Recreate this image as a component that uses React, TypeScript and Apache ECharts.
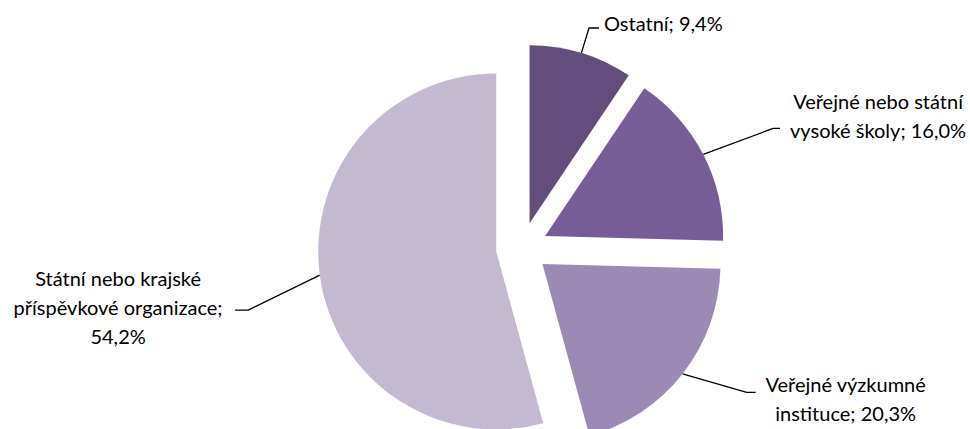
import React, { useEffect, useRef } from "react";
import * as echarts from "echarts";

const categories = [
  "Ostatní",
  "Veřejné nebo státní vysoké školy",
  "Veřejné výzkumné instituce",
  "Státní nebo krajské příspěvkové organizace",
];
const labelLinesText = [
  ["Ostatní; {v}"],
  ["Veřejné nebo státní", "vysoké školy; {v}"],
  ["Veřejné výzkumné", "instituce; {v}"],
  ["Státní nebo krajské", "příspěvkové organizace;", "{v}"],
];
const values = [9.4, 16.0, 20.3, 54.2];
const colors = ["#634d7d", "#775d98", "#9b8ab5", "#c3b9d1"];

export default function App() {
  const ref = useRef<HTMLDivElement>(null);
  useEffect(() => {
    const chart = echarts.init(ref.current!, undefined, { renderer: "svg" });
    const fmt = (v: number) => v.toFixed(1).replace(".", ",") + "%";
    const blockW = [0, 186, 170, 224];
    const lens = [26, 56.7, 29.9, 30];
    const lens2 = [10, 26.4, 49.6, 55];
    const pads = [
      [0, 0, 10, 0],
      [0, 0, 26, 0],
      [12, 0, 0, 0],
      [55, 0, 0, 0],
    ];
    // leader-line elbow: horizontal tail length and vertical drop of the tail
    const tail = [0, 7, 9, 13];
    const drop = [0, 0, 0, 31];
    chart.setOption({
      animation: false,
      backgroundColor: "#ffffff",
      series: [
        {
          type: "pie",
          center: [522, 248],
          radius: 178,
          startAngle: 90,
          clockwise: true,
          selectedMode: "multiple",
          selectedOffset: 26,
          avoidLabelOverlap: false,
          emphasis: { disabled: true },
          data: categories.map((c, i) => ({
            name: c,
            value: values[i],
            selected: true,
            itemStyle: { color: colors[i] },
            label: {
              padding: pads[i],
              rich: {
                c: {
                  width: blockW[i] || undefined,
                  align: "center",
                  fontFamily: "Lato",
                  fontSize: 20,
                  lineHeight: 29,
                  color: "#000000",
                },
              },
            },
            labelLine: { length: lens[i], length2: lens2[i] },
          })),
          label: {
            show: true,
            position: "outside",
            alignTo: "none",
            distanceToLabelLine: 5,
            fontFamily: "Lato",
            fontSize: 20,
            lineHeight: 29,
            color: "#000000",
            formatter: (p: any) =>
              labelLinesText[p.dataIndex]
                .map((l) => "{c|" + l.replace("{v}", fmt(p.value)) + "}")
                .join("\n"),
          },
          labelLine: {
            show: true,
            lineStyle: { color: "#000000", width: 1.3 },
          },
          labelLayout: (params: any) => {
            const i = params.dataIndex;
            const pts = params.labelLinePoints;
            if (!pts || !tail[i]) return {};
            const p0 = pts[0];
            const p2 = pts[2];
            const sign = p2[0] < p0[0] ? 1 : -1;
            const e2 = [p2[0], p2[1] + drop[i]];
            const e1 = [e2[0] + sign * tail[i], e2[1]];
            return { labelLinePoints: [p0, e1, e2] };
          },
        },
      ],
    });
    return () => chart.dispose();
  }, []);
  return (
    <div
      ref={ref}
      style={{ position: "absolute", left: 0, top: 0, width: 970, height: 429 }}
    />
  );
}
